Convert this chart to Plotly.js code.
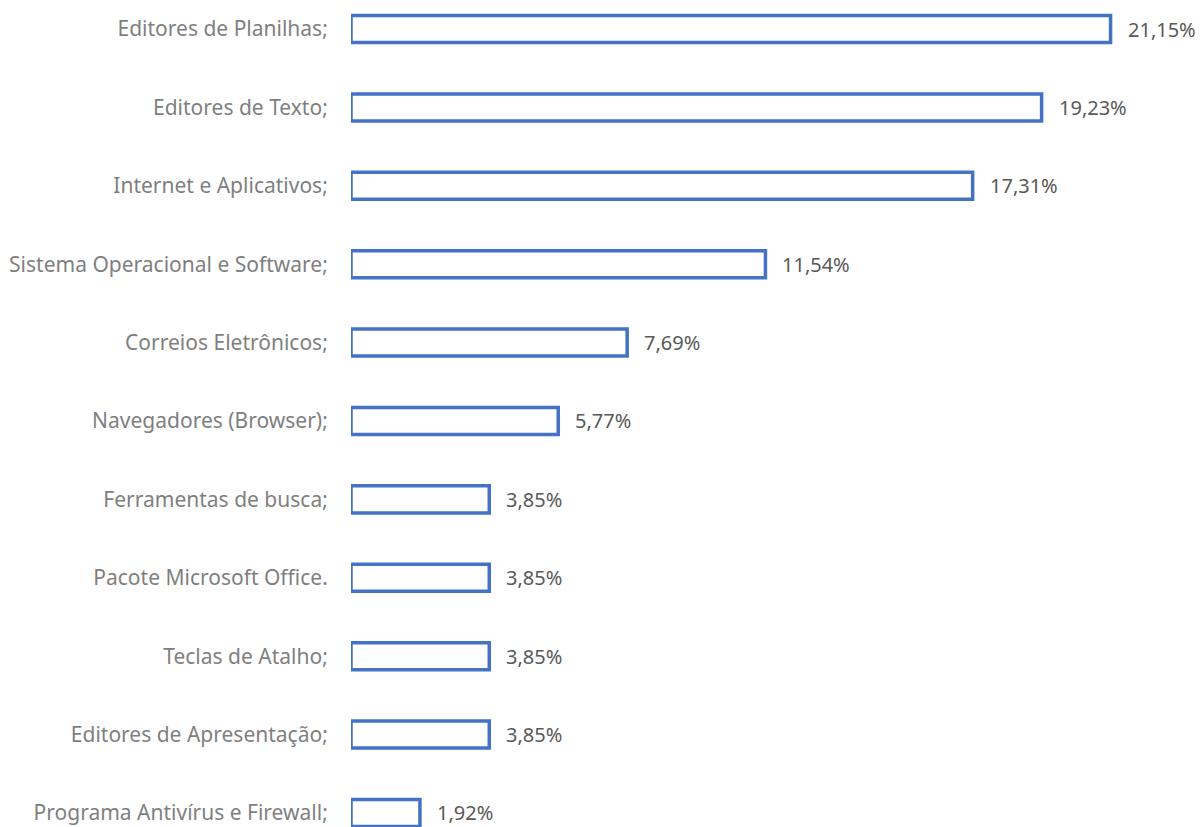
<!DOCTYPE html>
<html><head><meta charset="utf-8">
<script src="https://cdn.plot.ly/plotly-3.0.1.min.js"></script>
<style>html,body{margin:0;padding:0;background:#fff;}#chart{width:1201px;height:827px;}</style>
</head><body><div id="chart"></div>
<script>
const categories = [
  "Editores de Planilhas;",
  "Editores de Texto;",
  "Internet e Aplicativos;",
  "Sistema Operacional e Software;",
  "Correios Eletrônicos;",
  "Navegadores (Browser);",
  "Ferramentas de busca;",
  "Pacote Microsoft Office.",
  "Teclas de Atalho;",
  "Editores de Apresentação;",
  "Programa Antivírus e Firewall;"
];
const values = [21.15, 19.23, 17.31, 11.54, 7.69, 5.77, 3.85, 3.85, 3.85, 3.85, 1.92];
const valueLabels = ["21,15%","19,23%","17,31%","11,54%","7,69%","5,77%","3,85%","3,85%","3,85%","3,85%","1,92%"];

const FONT = "Noto Sans, sans-serif";
const trace = {
  type: 'bar', orientation: 'h',
  x: values, y: categories,
  marker: {color: '#ffffff', line: {color: '#4472C4', width: 3.5}},
  width: 0.345,
  hoverinfo: 'skip'
};
const annotations = values.map((v, i) => ({
  x: v, y: categories[i], xref: 'x', yref: 'y',
  text: valueLabels[i], showarrow: false, xanchor: 'left', xshift: 15,
  font: {family: FONT, size: 20, color: '#595959'}
}));
const layout = {
  width: 1201, height: 827,
  margin: {l: 351, r: 24, t: 0, b: 0, pad: 0},
  paper_bgcolor: '#fff', plot_bgcolor: '#fff',
  showlegend: false,
  xaxis: {range: [0, 23], visible: false, fixedrange: true},
  yaxis: {type: 'category', range: [10.179, -0.37], showgrid: false, zeroline: false,
          showline: false, ticks: 'outside', ticklen: 18, tickcolor: 'rgba(0,0,0,0)',
          tickfont: {family: FONT, size: 21, color: '#7F7F7F'}},
  annotations: annotations
};
Plotly.newPlot('chart', [trace], layout, {displayModeBar: false, staticPlot: true});
</script></body></html>
